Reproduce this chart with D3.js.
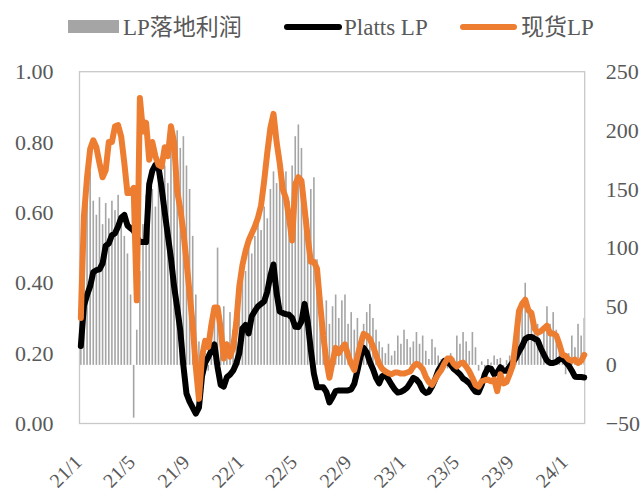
<!DOCTYPE html>
<html><head><meta charset="utf-8">
<script src="https://cdn.jsdelivr.net/npm/d3@7"></script>
<style>
html,body{margin:0;padding:0;background:#fff;}
svg{display:block;}
</style></head>
<body>
<svg id="chart" width="643" height="493"></svg>
<script>
// ---------- DATA ----------
const firstWeek = "2021-01-04";           // weekly observations, Monday
const seriesNames = ["LP落地利润", "Platts LP", "现货LP"];
const xTickLabels = ["21/1","21/5","21/9","22/1","22/5","22/9","23/1","23/5","23/9","24/1"];
const leftTicks = [0, 0.2, 0.4, 0.6, 0.8, 1.0];
const rightTicks = [-50, 0, 50, 100, 150, 200, 250];

// LP landed profit (right axis)
const profit = [60,110,150,165,140,128,143,120,138,125,140,132,145,128,110,95,60,-45,30,80,
120,145,130,150,135,160,145,170,155,190,175,200,185,195,170,150,110,60,20,-8,
10,-5,25,40,100,35,50,20,45,30,55,70,90,80,100,95,110,120,115,135,
125,150,165,155,175,150,165,140,170,195,205,185,145,125,150,160,90,60,45,55,
35,50,60,40,55,60,35,45,30,40,25,35,45,52,40,30,20,15,10,18,
8,12,25,18,30,22,15,20,28,18,25,12,5,22,15,8,5,3,-3,10,
6,25,18,28,20,12,28,15,-5,3,-3,5,2,8,5,6,-2,4,8,15,
25,40,55,70,45,40,30,35,20,30,50,35,45,30,15,5,-8,10,25,15,
35,25,40];

// Platts LP (left axis)
const platts = [0.22,0.335,0.365,0.39,0.43,0.436,0.438,0.455,0.505,0.512,0.535,0.541,0.56,0.585,0.593,0.563,0.555,0.548,0.53,0.516,
0.516,0.516,0.68,0.718,0.735,0.728,0.67,0.60,0.535,0.47,0.39,0.33,0.265,0.165,0.085,0.062,0.045,0.028,0.045,0.135,
0.172,0.189,0.207,0.225,0.16,0.11,0.105,0.132,0.139,0.15,0.17,0.20,0.27,0.28,0.256,0.305,0.32,0.333,0.34,0.347,
0.375,0.42,0.452,0.37,0.318,0.314,0.311,0.309,0.30,0.275,0.274,0.29,0.34,0.29,0.21,0.142,0.103,0.103,0.103,0.09,
0.06,0.075,0.092,0.094,0.094,0.094,0.094,0.097,0.113,0.15,0.19,0.215,0.202,0.175,0.155,0.13,0.114,0.135,0.138,0.125,
0.11,0.097,0.088,0.09,0.095,0.102,0.115,0.13,0.125,0.114,0.095,0.087,0.09,0.105,0.125,0.15,0.165,0.178,0.175,0.167,
0.155,0.148,0.14,0.128,0.122,0.115,0.102,0.09,0.089,0.11,0.14,0.158,0.156,0.14,0.145,0.16,0.15,0.15,0.162,0.174,
0.187,0.205,0.22,0.24,0.246,0.246,0.241,0.236,0.214,0.196,0.179,0.172,0.172,0.175,0.182,0.185,0.175,0.165,0.15,0.133,
0.132,0.132,0.131];

// Spot LP (left axis)
const spot = [0.30,0.59,0.70,0.78,0.805,0.785,0.74,0.70,0.72,0.80,0.80,0.845,0.848,0.815,0.74,0.655,0.655,0.67,0.35,0.925,
0.83,0.855,0.75,0.80,0.76,0.735,0.73,0.785,0.76,0.845,0.80,0.66,0.61,0.545,0.46,0.37,0.28,0.16,0.07,0.19,
0.235,0.217,0.28,0.33,0.33,0.27,0.185,0.225,0.19,0.215,0.285,0.39,0.45,0.49,0.52,0.54,0.56,0.585,0.62,0.69,
0.77,0.84,0.88,0.80,0.74,0.665,0.64,0.585,0.52,0.68,0.70,0.69,0.61,0.53,0.46,0.46,0.44,0.34,0.25,0.18,
0.13,0.175,0.215,0.20,0.215,0.225,0.195,0.17,0.152,0.19,0.225,0.255,0.25,0.24,0.22,0.195,0.17,0.155,0.148,0.143,
0.14,0.145,0.145,0.142,0.142,0.145,0.148,0.162,0.17,0.165,0.155,0.133,0.118,0.11,0.125,0.14,0.152,0.17,0.185,0.185,
0.17,0.162,0.17,0.173,0.162,0.148,0.13,0.11,0.105,0.12,0.123,0.125,0.12,0.125,0.092,0.14,0.114,0.118,0.14,0.165,
0.24,0.32,0.34,0.352,0.322,0.314,0.27,0.258,0.262,0.27,0.278,0.256,0.256,0.25,0.225,0.195,0.192,0.182,0.178,0.182,
0.172,0.178,0.195];

// ---------- CHART ----------
const m = {left: 79.5, right: 584.7, top: 71.7, bottom: 423.5};
const svg = d3.select("#chart");
const parse = d3.timeParse("%Y-%m-%d");
const start = parse(firstWeek);
const dates = profit.map((_, i) => d3.timeDay.offset(start, 7 * i));

const x = d3.scaleTime()
  .domain([parse("2021-01-01"), parse("2024-02-13")])
  .range([m.left, m.right]);
const yL = d3.scaleLinear().domain([0, 1]).range([m.bottom, m.top]);
const yR = d3.scaleLinear().domain([-50, 250]).range([m.bottom, m.top]);

const serif = "'Times New Roman','Liberation Serif','Noto Sans CJK SC',serif";
const txt = "#595959";

// bars
svg.append("g").selectAll("rect").data(profit).join("rect")
  .attr("x", (d, i) => x(dates[i]) - 0.8)
  .attr("width", 1.6)
  .attr("y", d => Math.min(yR(d), yR(0)))
  .attr("height", d => Math.abs(yR(d) - yR(0)))
  .attr("fill", "#a5a5a5");

// frame
svg.append("rect")
  .attr("x", m.left).attr("y", m.top)
  .attr("width", m.right - m.left).attr("height", m.bottom - m.top)
  .attr("fill", "none").attr("stroke", "#c8c8c8").attr("stroke-width", 1.3);

const lineL = vals => d3.line().x((d, i) => x(dates[i])).y(d => yL(d))(vals);

svg.append("path").attr("d", lineL(platts))
  .attr("fill", "none").attr("stroke", "#000").attr("stroke-width", 6)
  .attr("stroke-linejoin", "round").attr("stroke-linecap", "round");
svg.append("path").attr("d", lineL(spot))
  .attr("fill", "none").attr("stroke", "#ED7D31").attr("stroke-width", 6)
  .attr("stroke-linejoin", "round").attr("stroke-linecap", "round");

// left axis labels
const axL = d3.axisLeft(yL).tickValues(leftTicks).tickFormat(d3.format(".2f")).tickSize(0).tickPadding(26);
const gL = svg.append("g").attr("transform", `translate(${m.left},0)`).call(axL);
gL.select(".domain").remove();
gL.selectAll("text").attr("font-family", serif).attr("font-size", 22).attr("fill", txt);

// right axis labels
const axR = d3.axisRight(yR).tickValues(rightTicks).tickFormat(d3.format("d")).tickSize(0).tickPadding(21);
const gR = svg.append("g").attr("transform", `translate(${m.right},0)`).call(axR);
gR.select(".domain").remove();
gR.selectAll("text").attr("font-family", serif).attr("font-size", 22).attr("fill", txt);

// x axis labels
const xTicks = d3.timeMonth.every(4).range(parse("2021-01-01"), parse("2024-02-01"));
const axX = d3.axisBottom(x).tickValues(xTicks).tickFormat((d, i) => xTickLabels[i]).tickSize(0);
const gX = svg.append("g").attr("transform", `translate(0,${m.bottom})`).call(axX);
gX.select(".domain").remove();
gX.selectAll("text")
  .attr("font-family", serif).attr("font-size", 20).attr("fill", txt)
  .attr("text-anchor", "end").attr("dy", 0).attr("y", 0)
  .attr("transform", "translate(3,40) rotate(-45)");

// legend
const lg = svg.append("g").attr("font-family", serif).attr("font-size", 23).attr("fill", txt);
lg.append("rect").attr("x", 68).attr("y", 20).attr("width", 51).attr("height", 13).attr("fill", "#a5a5a5");
lg.append("text").attr("x", 123).attr("y", 35).text(seriesNames[0]);
lg.append("line").attr("x1", 287).attr("x2", 339).attr("y1", 27).attr("y2", 27)
  .attr("stroke", "#000").attr("stroke-width", 6).attr("stroke-linecap", "round");
lg.append("text").attr("x", 344).attr("y", 35).text(seriesNames[1]);
lg.append("line").attr("x1", 463).attr("x2", 514).attr("y1", 27).attr("y2", 27)
  .attr("stroke", "#ED7D31").attr("stroke-width", 6).attr("stroke-linecap", "round");
lg.append("text").attr("x", 521).attr("y", 35).text(seriesNames[2]);
</script>
</body></html>
